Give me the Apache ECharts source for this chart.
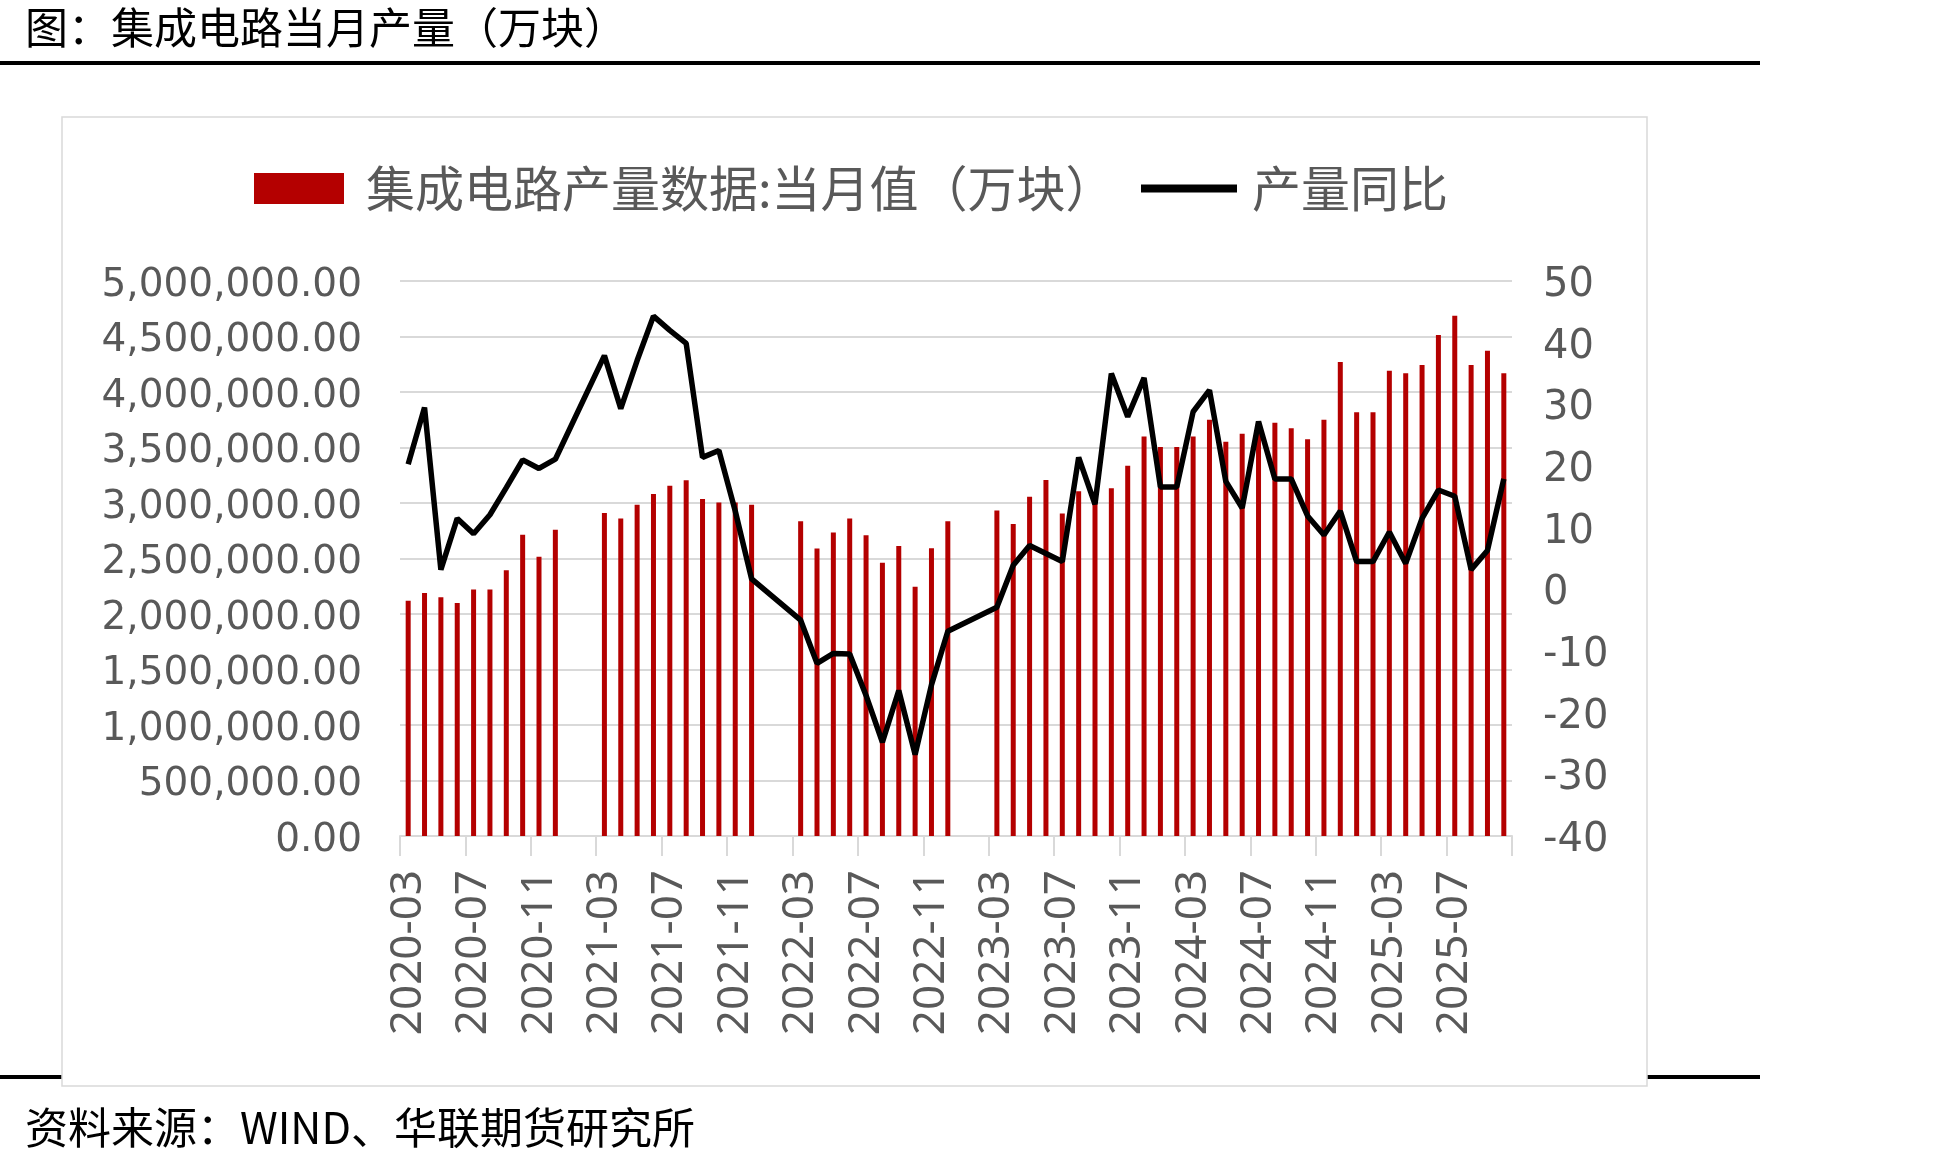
<!DOCTYPE html>
<html>
<head>
<meta charset="utf-8">
<title>集成电路当月产量</title>
<script src="https://cdn.jsdelivr.net/npm/echarts@6/dist/echarts.min.js"></script>
<style>
  html, body { margin: 0; padding: 0; background: #ffffff; }
  #chart { width: 1942px; height: 1162px; }
</style>
</head>
<body>
<div id="chart"></div>
<script>
// monthly slots, Jan/Feb kept as empty slots where no value was published
const categories = [
  "2020-03", "2020-04", "2020-05", "2020-06", "2020-07", "2020-08", "2020-09", "2020-10", "2020-11", "2020-12",
  "2021-01", "2021-02", "2021-03", "2021-04", "2021-05", "2021-06", "2021-07", "2021-08", "2021-09", "2021-10", "2021-11", "2021-12",
  "2022-01", "2022-02", "2022-03", "2022-04", "2022-05", "2022-06", "2022-07", "2022-08", "2022-09", "2022-10", "2022-11", "2022-12",
  "2023-01", "2023-02", "2023-03", "2023-04", "2023-05", "2023-06", "2023-07", "2023-08", "2023-09", "2023-10", "2023-11", "2023-12",
  "2024-01", "2024-02", "2024-03", "2024-04", "2024-05", "2024-06", "2024-07", "2024-08", "2024-09", "2024-10", "2024-11", "2024-12",
  "2025-01", "2025-02", "2025-03", "2025-04", "2025-05", "2025-06", "2025-07", "2025-08", "2025-09", "2025-10",
];

// 集成电路产量数据:当月值（万块）
const outputValues = [
  2120000, 2190000, 2150000, 2100000, 2220000, 2220000, 2395000, 2715000, 2515000, 2760000,
  null, null, 2910000, 2860000, 2985000, 3080000, 3155000, 3205000, 3035000, 3005000, 3005000, 2985000,
  null, null, 2835000, 2590000, 2735000, 2860000, 2710000, 2462000, 2612000, 2245000, 2592000, 2836000,
  null, null, 2933000, 2810000, 3056000, 3207000, 2906000, 3106000, 2990000, 3132000, 3335000, 3599000,
  3504000, 3504000, 3599000, 3749000, 3552000, 3623000, 3705000, 3722000, 3674000, 3575000, 3750000, 4270000,
  3818000, 3818000, 4192000, 4168000, 4243000, 4514000, 4688000, 4243000, 4372000, 4168000,
];

// 产量同比（%）
const yoyValues = [
  20.3, 29.5, 3.2, 11.5, 9.0, 12.1, 16.5, 21.0, 19.6, 21.1,
  null, null, 37.9, 29.3, 37.1, 44.3, 42.0, 39.9, 21.4, 22.5, 12.7, 1.7,
  null, null, -5.0, -12.0, -10.4, -10.5, -17.2, -24.8, -16.4, -26.8, -15.5, -6.8,
  null, null, -2.9, 3.9, 7.1, 5.8, 4.5, 21.4, 13.8, 35.0, 28.0, 34.3,
  16.6, 16.6, 28.8, 32.3, 17.5, 13.2, 27.2, 17.9, 17.9, 11.9, 8.8, 12.7,
  4.5, 4.5, 9.3, 4.2, 11.5, 16.1, 15.1, 3.2, 6.3, 17.9,
];

const leftTicks = { min: 0, max: 5000000, step: 500000 };
const rightTicks = { min: -40, max: 50, step: 10 };

const BAR_NAME = "集成电路产量数据:当月值（万块）";
const LINE_NAME = "产量同比";
const CJK_FONT = "Noto Sans CJK SC";
const LABEL_GRAY = "#595959";
const GRID_GRAY = "#d9d9d9";

function formatThousands(value) {
  return Number(value).toLocaleString("en-US", {
    minimumFractionDigits: 2,
    maximumFractionDigits: 2,
  });
}

const chart = echarts.init(document.getElementById("chart"), null, { renderer: "canvas" });

chart.setOption({
  backgroundColor: "#ffffff",
  animation: false,
  title: [
    {
      text: "图：集成电路当月产量（万块）",
      left: 25,
      top: 6,
      padding: 0,
      textStyle: { fontFamily: CJK_FONT, fontSize: 43, fontWeight: "normal", color: "#000000" },
    },
    {
      text: "资料来源：WIND、华联期货研究所",
      left: 25,
      top: 1106,
      padding: 0,
      textStyle: { fontFamily: CJK_FONT, fontSize: 43, fontWeight: "normal", color: "#000000" },
    },
  ],
  graphic: [
    {
      type: "line",
      z: -10,
      shape: { x1: 0, y1: 63, x2: 1760, y2: 63 },
      style: { stroke: "#000000", lineWidth: 4 },
    },
    {
      type: "line",
      z: -10,
      shape: { x1: 0, y1: 1077, x2: 62, y2: 1077 },
      style: { stroke: "#000000", lineWidth: 4 },
    },
    {
      type: "line",
      z: -10,
      shape: { x1: 1647, y1: 1077, x2: 1760, y2: 1077 },
      style: { stroke: "#000000", lineWidth: 4 },
    },
    {
      type: "rect",
      z: -10,
      shape: { x: 62, y: 117, width: 1585, height: 969 },
      style: { fill: "#ffffff", stroke: GRID_GRAY, lineWidth: 1.5 },
    },
  ],
  legend: [
    {
      data: [BAR_NAME],
      left: 254,
      top: 164,
      padding: 0,
      itemWidth: 90,
      itemHeight: 31,
      icon: "rect",
      textStyle: { fontFamily: CJK_FONT, fontSize: 49, color: LABEL_GRAY, padding: [0, 0, 0, 17] },
    },
    {
      data: [LINE_NAME],
      left: 1141,
      top: 164,
      padding: 0,
      itemWidth: 96,
      itemHeight: 8,
      icon: "rect",
      textStyle: { fontFamily: CJK_FONT, fontSize: 49, color: LABEL_GRAY, padding: [0, 0, 0, 10] },
    },
  ],
  grid: {
    left: 400,
    right: 430,
    top: 281,
    bottom: 326,
    containLabel: false,
  },
  xAxis: {
    type: "category",
    data: categories,
    boundaryGap: true,
    axisLine: { lineStyle: { color: GRID_GRAY, width: 2 } },
    axisTick: { show: true, interval: 3, length: 20, lineStyle: { color: GRID_GRAY, width: 2 } },
    axisLabel: {
      interval: 3,
      rotate: 90,
      margin: 34,
      fontFamily: "Noto Sans",
      fontSize: 44,
      color: LABEL_GRAY,
    },
  },
  yAxis: [
    {
      type: "value",
      min: leftTicks.min,
      max: leftTicks.max,
      interval: leftTicks.step,
      axisLine: { show: false },
      axisTick: { show: false },
      axisLabel: {
        margin: 38,
        formatter: (value) => `{v|${formatThousands(value)}}`,
        rich: {
          v: { fontFamily: "DejaVu Sans", fontSize: 39, color: LABEL_GRAY, padding: [9, 0, 0, 0] },
        },
      },
      splitLine: { lineStyle: { color: GRID_GRAY, width: 2 } },
    },
    {
      type: "value",
      position: "right",
      min: rightTicks.min,
      max: rightTicks.max,
      interval: rightTicks.step,
      axisLine: { show: false },
      axisTick: { show: false },
      axisLabel: {
        margin: 31,
        formatter: (value) => `{v|${value}}`,
        rich: {
          v: { fontFamily: "DejaVu Sans", fontSize: 40, color: LABEL_GRAY, padding: [9, 0, 0, 0] },
        },
      },
      splitLine: { show: false },
    },
  ],
  series: [
    {
      name: BAR_NAME,
      type: "bar",
      yAxisIndex: 0,
      data: outputValues,
      barWidth: 5,
      itemStyle: { color: "#B40000" },
      z: 2,
    },
    {
      name: LINE_NAME,
      type: "line",
      yAxisIndex: 1,
      data: yoyValues,
      connectNulls: true,
      showSymbol: false,
      symbol: "none",
      lineStyle: { color: "#000000", width: 5.5 },
      itemStyle: { color: "#000000" },
      z: 3,
    },
  ],
});
</script>
</body>
</html>
